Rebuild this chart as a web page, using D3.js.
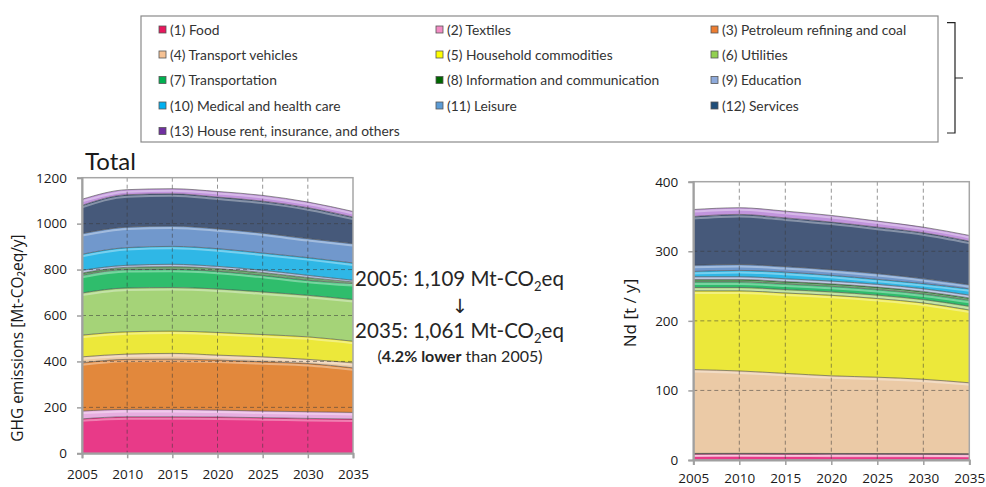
<!DOCTYPE html>
<html><head><meta charset="utf-8">
<script src="https://cdn.jsdelivr.net/npm/d3@7"></script>
<style>body{margin:0;background:#fff}svg{display:block}</style>
</head><body>
<svg id="c" width="986" height="487"></svg>
<script>
// ---------- data ----------
const years = [2005, 2010, 2015, 2020, 2025, 2030, 2035];
const sectorLabels = [
  "(1) Food", "(2) Textiles", "(3) Petroleum refining and coal",
  "(4) Transport vehicles", "(5) Household commodities", "(6) Utilities",
  "(7) Transportation", "(8) Information and communication", "(9) Education",
  "(10) Medical and health care", "(11) Leisure", "(12) Services",
  "(13) House rent, insurance, and others"
];
// GHG emissions [Mt-CO2eq/y] per sector
const ghgFood              = [150, 159, 159, 158, 155, 152, 149];
const ghgTextiles          = [34, 32, 32, 30, 29, 29, 29];
const ghgPetroleum         = [210, 218, 219, 218, 214.5, 210, 194];
const ghgTransportVehicles = [26, 23, 25, 21.5, 21.5, 18, 22];
const ghgHousehold         = [94.5, 97, 97, 98.5, 97, 98, 94];
const ghgUtilities         = [183.5, 191, 189.7, 189.7, 185.7, 181, 181.6];
const ghgTransportation    = [77, 80, 79.3, 77, 72.3, 65.5, 69.4];
const ghgInformation       = [10, 10, 12, 12, 12, 12, 7];
const ghgEducation         = [12, 8.7, 10, 9.3, 10, 9.5, 7.5];
const ghgMedical           = [69.5, 77, 78, 77, 75, 77, 75.2];
const ghgLeisure           = [90, 89.3, 88.6, 87, 87, 82.8, 84.3];
const ghgServices          = [123, 141, 140.4, 137.7, 139, 134.8, 115.7];
const ghgHouseRent         = [26.5, 22, 22, 24.3, 25, 24.4, 24.3];
// Nd demand [t/y] per sector
const ndFood              = [8.5, 8.6, 8.5, 8.4, 8.3, 8.2, 8.0];
const ndTextiles          = [0.6, 0.6, 0.6, 0.6, 0.6, 0.6, 0.6];
const ndPetroleum         = [0.4, 0.4, 0.4, 0.4, 0.4, 0.4, 0.4];
const ndTransportVehicles = [120.5, 118.4, 115, 111.6, 109.7, 106.8, 102];
const ndHousehold         = [113, 115, 115.5, 115.7, 113, 109.7, 104.5];
const ndUtilities         = [5, 5, 5, 5, 5, 5, 5.5];
const ndTransportation    = [8, 8, 8, 8, 8, 8, 8.5];
const ndInformation       = [3.5, 3.5, 3.5, 3.5, 3.5, 3.5, 3.5];
const ndEducation         = [4, 4, 4, 4, 4, 4, 4];
const ndMedical           = [7.5, 9, 9.5, 8.2, 7.2, 7.3, 9];
const ndLeisure           = [9, 8.5, 8, 8.2, 8.3, 7.2, 6];
const ndServices          = [70, 72, 70, 68.4, 66.7, 66, 62.6];
const ndHouseRent         = [10, 9.6, 9.7, 9.5, 8.7, 8, 8.2];

const ghgTicks = [0, 200, 400, 600, 800, 1000, 1200];
const ndTicks = [0, 100, 200, 300, 400];
const yearTicks = years;
const ghgLabel = "GHG emissions [Mt-CO₂eq/y]";
const ndLabel = "Nd [t / y]";

// ---------- styles ----------
const legendColors = ["#e8175d","#f28cc4","#ed7d31","#f6c294","#ffff00","#92d050",
  "#00b050","#006600","#8eaadb","#00b0f0","#5b9bd5","#1f4e79","#7030a0"];
const fillColors = ["#e83a88","#e7aee0","#e2883c","#ebcaa6","#ece83a","#a5d378",
  "#2fbd6c","#2f7d35","#9fb3d8","#2fb7e6","#7198cc","#46597a","#c295dd"];

const svg = d3.select("#c");
const defs = svg.append("defs");

function drawPanel(cfg) {
  const series = cfg.series;
  const rows = years.map((yr, i) => {
    const r = {year: yr};
    series.forEach((s, k) => r[k] = s[i]);
    return r;
  });
  const keys = d3.range(series.length);
  const stacked = d3.stack().keys(keys)(rows);
  const x = d3.scaleLinear().domain([years[0], years[years.length-1]]).range([cfg.x0, cfg.x1]);
  const y = d3.scaleLinear().domain([0, cfg.max]).range([cfg.yb, cfg.yt]);

  const clipId = "clip" + cfg.id;
  defs.append("clipPath").attr("id", clipId).append("rect")
    .attr("x", cfg.x0).attr("y", cfg.yt).attr("width", cfg.x1 - cfg.x0).attr("height", cfg.yb - cfg.yt);
  const g = svg.append("g").attr("clip-path", `url(#${clipId})`);

  const area = d3.area().x(d => x(d.data.year)).y0(d => y(d[0])).y1(d => y(d[1])).curve(d3.curveMonotoneX);
  const top = d3.line().x(d => x(d.data.year)).y(d => y(d[1])).curve(d3.curveMonotoneX);

  g.selectAll("path.band").data(stacked).join("path").attr("class", "band")
    .attr("d", area).attr("fill", (d, i) => fillColors[i]);
  // glossy highlight below each top edge
  g.selectAll("path.hl").data(stacked).join("path").attr("class", "hl")
    .attr("d", top).attr("fill", "none").attr("stroke", "#fff").attr("stroke-opacity", 0.35)
    .attr("stroke-width", 2).attr("transform", "translate(0,2)");
  // darker edge line along top of each band
  g.selectAll("path.edge").data(stacked).join("path").attr("class", "edge")
    .attr("d", top).attr("fill", "none").attr("stroke", "#4a4a4a").attr("stroke-opacity", 0.6)
    .attr("stroke-width", 1);

  // dashed grid on top
  const grid = svg.append("g").attr("stroke", "#3a3a3a").attr("stroke-opacity", 0.6)
    .attr("stroke-dasharray", "4,3").attr("stroke-width", 0.9);
  yearTicks.slice(1, -1).forEach(t => grid.append("line")
    .attr("x1", x(t)).attr("x2", x(t)).attr("y1", cfg.yt).attr("y2", cfg.yb));
  cfg.ticks.slice(1, -1).forEach(t => grid.append("line")
    .attr("x1", cfg.x0).attr("x2", cfg.x1).attr("y1", y(t)).attr("y2", y(t)));

  // frame
  svg.append("rect").attr("x", cfg.x0).attr("y", cfg.yt).attr("width", cfg.x1 - cfg.x0)
    .attr("height", cfg.yb - cfg.yt).attr("fill", "none").attr("stroke", "#a6a6a6").attr("stroke-width", 1.5);

  // axes
  const ay = svg.append("g").attr("transform", `translate(${cfg.x0},0)`)
    .call(d3.axisLeft(y).tickValues(cfg.ticks).tickFormat(d3.format("d")).tickSize(5).tickPadding(10));
  const ax = svg.append("g").attr("transform", `translate(0,${cfg.yb})`)
    .call(d3.axisBottom(x).tickValues(yearTicks).tickFormat(d3.format("d")).tickSize(5).tickPadding(cfg.xPad));
  [ay, ax].forEach(a => {
    a.select(".domain").attr("stroke", "#a0a0a0").attr("stroke-width", 2);
    a.selectAll(".tick line").attr("stroke", "#a0a0a0").attr("stroke-width", 1.5);
    a.selectAll("text").attr("font-family", "'Open Sans', sans-serif").attr("font-size", 13.5).attr("fill", "#1a1a1a");
  });

  // y-axis title
  svg.append("text").attr("transform", `translate(${cfg.labelX},${cfg.labelY}) rotate(-90)`)
    .attr("text-anchor", "middle").attr("font-family", "'Open Sans', sans-serif")
    .attr("font-size", cfg.labelSize).attr("fill", "#1a1a1a").text(cfg.label);
}

drawPanel({id: "g", series: [ghgFood, ghgTextiles, ghgPetroleum, ghgTransportVehicles, ghgHousehold,
  ghgUtilities, ghgTransportation, ghgInformation, ghgEducation, ghgMedical, ghgLeisure, ghgServices, ghgHouseRent],
  x0: 82, x1: 353, yt: 177.7, yb: 453.3, max: 1200, ticks: ghgTicks, xPad: 11,
  label: ghgLabel, labelX: 23, labelY: 338, labelSize: 15.5});

drawPanel({id: "n", series: [ndFood, ndTextiles, ndPetroleum, ndTransportVehicles, ndHousehold,
  ndUtilities, ndTransportation, ndInformation, ndEducation, ndMedical, ndLeisure, ndServices, ndHouseRent],
  x0: 693.3, x1: 969.3, yt: 181.7, yb: 460, max: 400, ticks: ndTicks, xPad: 8,
  label: ndLabel, labelX: 636, labelY: 313, labelSize: 17});

// ---------- title ----------
svg.append("text").attr("x", 85).attr("y", 170).attr("font-family", "Lato, sans-serif")
  .attr("font-size", 24).attr("fill", "#1a1a1a").text("Total");

// ---------- annotation ----------
const ann = svg.append("g").attr("font-family", "Lato, sans-serif").attr("fill", "#262626").attr("text-anchor", "middle");
function co2Line(yPos, txt) {
  const t = ann.append("text").attr("x", 459.5).attr("y", yPos).attr("font-size", 20.5);
  t.append("tspan").text(txt + " Mt-CO");
  t.append("tspan").attr("font-size", 13).attr("dy", 5).text("2");
  t.append("tspan").attr("dy", -5).text("eq");
}
co2Line(286, "2005: 1,109");
ann.append("text").attr("x", 460).attr("y", 313).attr("font-size", 19.5)
  .attr("font-family", "'DejaVu Sans', sans-serif").text("↓");
co2Line(338, "2035: 1,061");
const l3 = ann.append("text").attr("x", 460).attr("y", 362).attr("font-size", 16);
l3.append("tspan").text("(");
l3.append("tspan").attr("font-weight", "bold").text("4.2% lower");
l3.append("tspan").text(" than 2005)");

// ---------- legend ----------
const lg = svg.append("g");
lg.append("rect").attr("x", 141).attr("y", 16).attr("width", 797).attr("height", 126)
  .attr("fill", "#fff").attr("stroke", "#8a8a8a").attr("stroke-width", 1.2);
const colX = [159, 436, 711];
const rowY = [30, 55, 80.5, 106, 131.5];
sectorLabels.forEach((lab, i) => {
  const cx = colX[i % 3], cy = rowY[Math.floor(i / 3)];
  lg.append("rect").attr("x", cx).attr("y", cy - 4).attr("width", 7).attr("height", 7)
    .attr("fill", legendColors[i]).attr("stroke", "#555").attr("stroke-width", 0.8);
  lg.append("text").attr("x", cx + 11).attr("y", cy + 4.5).attr("font-family", "Lato, sans-serif")
    .attr("font-size", 13.8).attr("fill", "#333").text(lab);
});
// bracket
svg.append("path").attr("d", "M947,22.7 H955 V133 H947 M955,78 H963")
  .attr("fill", "none").attr("stroke", "#222").attr("stroke-width", 1.2);
</script>
</body></html>
